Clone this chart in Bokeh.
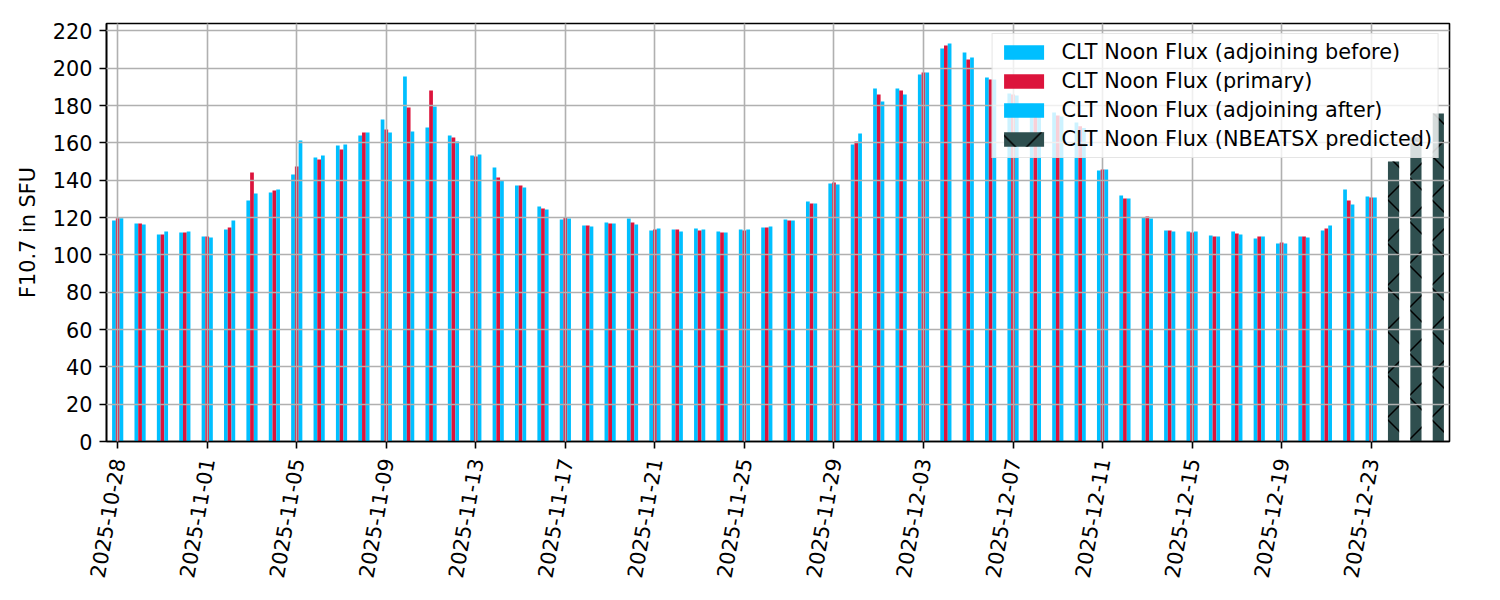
import math
from bokeh.plotting import figure
from bokeh.models import FixedTicker, Range1d, ColumnDataSource, Legend, LegendItem
from bokeh.embed import file_html
from bokeh.resources import INLINE

# ---------------- data ----------------
dates = [
    "2025-10-28", "2025-10-29", "2025-10-30", "2025-10-31", "2025-11-01",
    "2025-11-02", "2025-11-03", "2025-11-04", "2025-11-05", "2025-11-06",
    "2025-11-07", "2025-11-08", "2025-11-09", "2025-11-10", "2025-11-11",
    "2025-11-12", "2025-11-13", "2025-11-14", "2025-11-15", "2025-11-16",
    "2025-11-17", "2025-11-18", "2025-11-19", "2025-11-20", "2025-11-21",
    "2025-11-22", "2025-11-23", "2025-11-24", "2025-11-25", "2025-11-26",
    "2025-11-27", "2025-11-28", "2025-11-29", "2025-11-30", "2025-12-01",
    "2025-12-02", "2025-12-03", "2025-12-04", "2025-12-05", "2025-12-06",
    "2025-12-07", "2025-12-08", "2025-12-09", "2025-12-10", "2025-12-11",
    "2025-12-12", "2025-12-13", "2025-12-14", "2025-12-15", "2025-12-16",
    "2025-12-17", "2025-12-18", "2025-12-19", "2025-12-20", "2025-12-21",
    "2025-12-22", "2025-12-23",
]
flux_before = [
    118.4, 116.8, 110.9, 112.0, 109.9, 113.6, 129.2, 133.4, 143.1, 152.2,
    158.6, 164.0, 172.6, 195.6, 168.3, 164.0, 153.3, 146.8, 137.2, 125.9,
    119.0, 115.8, 117.4, 119.5, 113.1, 113.6, 114.1, 112.5, 113.6, 114.7,
    119.0, 128.6, 138.3, 159.2, 189.2, 189.2, 196.7, 210.6, 208.5, 195.0,
    186.5, 181.1, 176.3, 170.9, 145.2, 131.8, 120.0, 113.1, 112.5, 110.4,
    112.5, 108.8, 106.1, 109.9, 113.1, 135.0, 131.3,
]
flux_primary = [
    119.7, 116.8, 110.9, 112.0, 109.9, 114.7, 144.2, 134.5, 147.4, 151.1,
    156.5, 165.6, 167.2, 179.0, 188.1, 162.9, 152.7, 141.5, 137.2, 124.9,
    120.0, 115.8, 116.8, 117.4, 113.6, 113.6, 113.1, 112.0, 113.1, 114.7,
    118.4, 127.5, 138.8, 160.8, 186.0, 188.1, 197.7, 212.2, 204.7, 194.0,
    186.0, 180.0, 174.7, 169.0, 145.8, 130.2, 120.6, 113.1, 112.0, 109.9,
    111.5, 109.9, 106.6, 109.9, 114.1, 129.2, 130.8,
]
flux_after = [
    119.7, 116.3, 112.5, 112.5, 109.3, 118.4, 132.9, 135.0, 161.3, 153.3,
    159.2, 165.6, 165.6, 166.1, 179.5, 160.8, 153.8, 139.9, 136.1, 124.3,
    119.5, 115.2, 116.8, 116.3, 114.1, 112.5, 113.6, 112.0, 113.6, 115.2,
    118.4, 127.5, 137.7, 165.1, 182.2, 186.0, 197.7, 213.3, 205.8, 194.0,
    185.4, 179.5, 174.2, 168.0, 145.8, 130.2, 119.5, 112.5, 112.5, 109.9,
    110.9, 109.9, 106.1, 109.3, 115.8, 127.0, 130.8,
]
pred_dates = ["2025-12-24", "2025-12-25", "2025-12-26"]
flux_predicted = [150.0, 163.0, 175.8]

y_ticks = [0, 20, 40, 60, 80, 100, 120, 140, 160, 180, 200, 220]

# ---------------- layout helpers ----------------
all_dates = dates + pred_dates
idx = list(range(len(dates)))
pidx = list(range(len(dates), len(all_dates)))
x_ticks = list(range(0, len(all_dates) - 3, 4))

FONT = "DejaVu Sans"
FS = "20.8px"
BLUE = "#00BFFF"
RED = "#DC143C"
DARK = "#2F4F4F"

w = 0.5 / 3
src = ColumnDataSource(dict(
    xb=[i - w for i in idx], xp=idx, xa=[i + w for i in idx],
    before=flux_before, primary=flux_primary, after=flux_after,
))
psrc = ColumnDataSource(dict(x=pidx, top=flux_predicted))

p = figure(
    frame_width=1343, frame_height=418,
    output_backend="svg", toolbar_location=None,
    x_range=Range1d(-0.5, len(all_dates) - 0.5),
    y_range=Range1d(0, 224),
    min_border_left=106, min_border_right=43, min_border_top=23,
    min_border_bottom=148,
)

r_b = p.vbar(x="xb", top="before", width=w, source=src, fill_color=BLUE, line_color=None)
r_p = p.vbar(x="xp", top="primary", width=w, source=src, fill_color=RED, line_color=None)
r_a = p.vbar(x="xa", top="after", width=w, source=src, fill_color=BLUE, line_color=None)
r_n = p.vbar(x="x", top="top", width=0.5, source=psrc, fill_color=DARK, line_color=None,
             hatch_pattern="diagonal_cross", hatch_color="black", hatch_weight=1.5,
             hatch_scale=44)

# axes
p.xaxis.ticker = FixedTicker(ticks=x_ticks)
p.xaxis.major_label_overrides = {i: all_dates[i] for i in x_ticks}
p.xaxis.major_label_orientation = math.radians(80)
p.yaxis.ticker = FixedTicker(ticks=y_ticks)
p.yaxis.axis_label = "F10.7 in SFU"
p.yaxis.axis_label_standoff = 10
p.yaxis.axis_label_text_font_style = "normal"
p.yaxis.axis_label_text_font = FONT
p.yaxis.axis_label_text_font_size = FS
p.yaxis.axis_label_text_color = "black"

for ax in (p.xaxis, p.yaxis):
    ax.major_label_text_font = FONT
    ax.major_label_text_font_size = FS
    ax.major_label_text_color = "black"
    ax.major_label_standoff = 7
    ax.axis_line_color = "black"
    ax.axis_line_width = 1.6
    ax.major_tick_line_color = "black"
    ax.major_tick_line_width = 1.6
    ax.major_tick_out = 7
    ax.major_tick_in = 0
    ax.minor_tick_line_color = None
p.xaxis.major_label_standoff = 10

p.xgrid.ticker = FixedTicker(ticks=x_ticks)
p.ygrid.ticker = FixedTicker(ticks=y_ticks)
p.grid.grid_line_color = "#b0b0b0"
p.grid.grid_line_width = 1.6
p.grid.level = "guide"

p.outline_line_color = "black"
p.outline_line_width = 1.6
p.background_fill_color = "white"
p.border_fill_color = "white"

legend = Legend(items=[
    LegendItem(label="CLT Noon Flux (adjoining before)", renderers=[r_b]),
    LegendItem(label="CLT Noon Flux (primary)", renderers=[r_p]),
    LegendItem(label="CLT Noon Flux (adjoining after)", renderers=[r_a]),
    LegendItem(label="CLT Noon Flux (NBEATSX predicted)", renderers=[r_n]),
], location="top_right")
legend.label_text_font = FONT
legend.label_text_font_size = FS
legend.label_text_color = "black"
legend.glyph_width = 50
legend.glyph_height = 18
legend.label_standoff = 13
legend.padding = 6
legend.spacing = 5
legend.margin = 10
legend.border_line_color = "#cccccc"
legend.border_line_width = 1.5
legend.background_fill_color = "white"
legend.background_fill_alpha = 0.8
p.add_layout(legend)

open("out.html", "w").write(file_html(p, INLINE))
